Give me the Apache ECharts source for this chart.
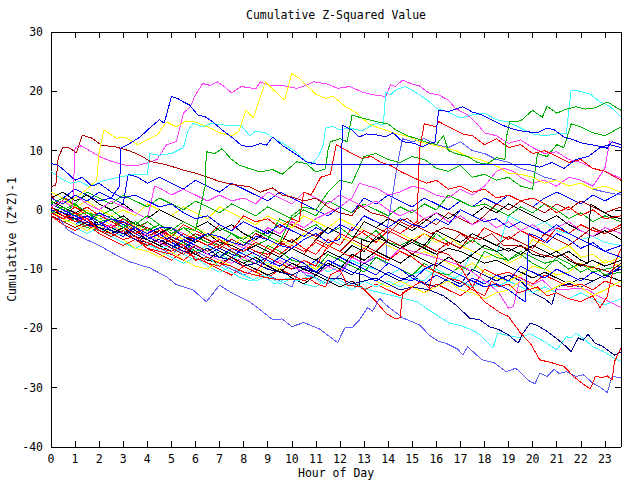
<!DOCTYPE html>
<html><head><meta charset="utf-8">
<script src="https://cdn.jsdelivr.net/npm/echarts@6/dist/echarts.min.js"></script>
<style>html,body{margin:0;padding:0;background:#fff}#c{width:640px;height:480px}
#c svg path{shape-rendering:crispEdges}</style>
</head><body><div id="c"></div>
<script>
// ---- axis settings (hours 0..23.67, values -40..30) ----
const xMin = 0, xMax = 23.67, yMin = -40, yMax = 30;
const titleText = 'Cumulative Z-Squared Value';
const xName = 'Hour of Day';
const yName = 'Cumulative (Z*Z)-1';

// ---- series: [hour, cumulative value] ----
const slateLow = [[0,0],[0.35,-1.5],[0.7,-3.4],[1.3,-4.7],[2,-6],[2.7,-7.6],[3.3,-8.8],[4.1,-9.8],[4.8,-11.3],[5.2,-12.6],[5.9,-13.5],[6.45,-15.5],[7,-12.7],[7.5,-14],[8.25,-15.5],[8.7,-16.9],[9.2,-18.5],[9.6,-18.4],[10,-19.7],[10.5,-19],[11.15,-20.1],[11.9,-22.4],[12.2,-19.9],[12.5,-19.9],[12.8,-18.6],[13.15,-16.5],[13.35,-17.1],[13.65,-14.9],[13.9,-16],[14.6,-18.2],[15.3,-19.4],[15.7,-21.1],[16.1,-22.2],[16.4,-22.5],[16.9,-23.5],[17.1,-24.5],[17.3,-23.1],[17.9,-25.3],[18.4,-25.8],[18.9,-27.3],[19.3,-26.7],[19.9,-29],[20.1,-29.3],[20.3,-27.5],[20.6,-28.1],[20.9,-26.9],[21.1,-27.6],[21.4,-27.3],[21.8,-28.1],[22.1,-27.8],[22.5,-29.2],[22.8,-29.9],[23.1,-30.8],[23.3,-28.1],[23.67,-28.3]];
const redLow = [[0,0.5],[0.5,-1],[1,-2],[1.5,-1.5],[2,-3.5],[2.5,-4],[3,-5],[3.5,-4.5],[4,-5.5],[4.5,-6.5],[5,-7],[5.5,-6],[6,-8.5],[6.5,-8],[7,-9],[7.5,-9.5],[8,-10.5],[8.5,-11],[9,-11.5],[9.5,-11.8],[10.2,-11.8],[10.7,-11.5],[11,-12.4],[11.4,-13],[11.6,-11],[12,-10.1],[12.3,-12.7],[12.9,-13],[13.5,-15.5],[13.9,-17.4],[14.3,-18.4],[14.5,-18.2],[14.6,-14],[15,-13],[15.4,-12],[15.7,-13.2],[16.1,-7],[16.5,-7.5],[17,-9.6],[17.5,-13],[18,-15.5],[18.6,-17.2],[19,-18],[19.5,-20.8],[19.9,-22.5],[20.3,-25.3],[20.8,-25.8],[21.3,-26.4],[21.7,-28.1],[22.1,-29.4],[22.4,-30.2],[22.6,-28.1],[22.9,-28.3],[23.1,-28],[23.3,-28.7],[23.4,-25.6],[23.67,-23.3]];
const cyanLow = [[0,0],[0.5,-1.5],[1,-2.5],[1.5,-2],[2,-3.5],[2.5,-4.5],[3,-4],[3.5,-5],[4,-6],[4.5,-6.5],[5,-6],[5.5,-7.5],[6,-8.5],[6.5,-8],[7,-9.5],[7.5,-10.5],[7.8,-11.3],[8.3,-12],[8.8,-11],[9.3,-12.5],[9.8,-11.5],[10.3,-12],[10.8,-11],[11.3,-12.5],[11.8,-11.5],[12.3,-12.5],[12.8,-13],[13.2,-13.5],[13.7,-14],[14.2,-14.5],[14.7,-15],[15.2,-15.5],[15.7,-16.9],[16.1,-18],[16.55,-19.1],[17,-19.5],[17.4,-20.1],[17.8,-21],[18.35,-23.3],[18.55,-20.8],[19,-21.2],[19.5,-21.6],[19.9,-20.9],[20.3,-21.8],[20.6,-22.5],[21,-23.6],[21.4,-21.4],[21.6,-21.6],[21.8,-20.8],[22.2,-22],[22.5,-23.1],[22.9,-23.8],[23.3,-24.8],[23.67,-25.6]];
const navyLow = [[0,0],[0.5,-1],[1,-1.5],[1.5,-2.5],[2,-3],[2.5,-3.5],[3,-4],[3.5,-5],[4,-5.5],[4.5,-5],[5,-6],[5.5,-7],[6,-7.5],[6.5,-6.5],[7,-8],[7.5,-8.5],[8,-9.5],[8.5,-9],[9,-10],[9.5,-10.5],[10,-11],[10.5,-10],[11,-10.5],[11.5,-11.5],[12,-11.5],[12.5,-12.5],[13,-12],[13.5,-11.5],[14,-12.5],[14.5,-13.5],[15,-13],[15.7,-13.5],[16.3,-14.5],[16.8,-16],[17.4,-18.3],[17.8,-18.5],[18.2,-19.7],[18.6,-20.2],[19,-21.1],[19.4,-22.5],[19.6,-20.8],[19.9,-19.1],[20.2,-19.5],[20.6,-20.5],[21,-21.7],[21.4,-23.1],[21.6,-23.9],[21.9,-21.6],[22.1,-22],[22.3,-21],[22.6,-22.5],[22.9,-23],[23.2,-23.9],[23.4,-24.5],[23.67,-24]];
const blueFlat = [[0,2],[0.5,1],[1,2.5],[1.5,1.5],[2,3],[2.5,2],[2.85,4],[2.9,10.4],[3.2,11],[3.7,12.3],[4.1,13.8],[4.5,15.2],[4.7,14.6],[5,19.1],[5.25,18.8],[5.5,18.2],[5.75,17.7],[6.1,16],[6.4,15.7],[6.7,14.9],[7.1,13.5],[7.5,12.3],[7.9,10.9],[8.25,10.6],[8.7,11.2],[8.95,10.9],[9.2,12.3],[9.6,10.9],[10.2,9.3],[10.6,8.1],[11.15,7.6],[19.9,7.6],[20.3,7.2],[20.8,8],[21.3,7],[21.8,8.5],[22.3,9],[22.8,10.5],[23.2,11],[23.67,10.5]];
const blueJump = [[0,0],[0.5,-0.5],[1,-1],[1.5,-2],[2,-2.5],[2.5,-1.5],[3,-2],[3.5,-3],[4,-4],[4.5,-3],[5,-3],[5.5,-4.5],[6,-5],[6.5,-4],[7,-4.5],[7.5,-5.5],[8,-6],[8.5,-4.5],[9,-5],[9.5,-6],[10,-6.5],[10.5,-5],[11,-4],[11.5,-5.5],[12,-5],[12.1,14.3],[12.5,13.5],[12.8,12.3],[13.1,12.8],[13.6,12.6],[13.9,12.3],[14.2,13],[14.6,11.5],[15.1,11.2],[15.4,10.6],[15.7,11.2],[15.95,11.4],[16.1,16.8],[16.5,16.6],[17.1,17.4],[17.5,16.5],[17.9,16],[18.5,14.8],[18.9,14],[19.3,13.5],[19.7,13.2],[20.2,13],[20.6,13.8],[20.9,13.5],[21.3,12.3],[21.7,11.8],[22.1,11.2],[22.7,10.8],[23.1,10.4],[23.3,11.5],[23.67,11]];
const magentaTop = [[0,0.5],[0.5,1.5],[0.9,0.5],[1,10.5],[1.25,10.8],[1.6,10],[2,9],[2.5,8.2],[3,7.6],[3.5,7.4],[4,7.9],[4.4,8.5],[4.8,11],[5.2,11.5],[5.5,16.3],[5.8,17.5],[6,19.4],[6.3,21.3],[6.6,21],[6.9,21.6],[7.2,20.8],[7.5,19.7],[7.9,20.8],[8.25,20.6],[8.5,20.4],[8.7,21.6],[9.1,20.9],[9.6,21],[10.2,20.5],[10.6,21],[10.9,21.6],[11.5,21.2],[11.9,20.5],[12.4,20.8],[12.9,19.9],[13.4,19.4],[13.9,19.1],[14.1,21.1],[14.3,20.8],[14.6,21.9],[15,21.2],[15.3,20.9],[15.7,19.7],[16.1,19.4],[16.5,18.5],[16.8,17.1],[17.3,16],[17.7,14.5],[18,13],[18.5,12.5],[19,11.2],[19.5,11.8],[20,10.5],[20.5,9.5],[21,9.8],[21.5,8.5],[22,8],[22.5,7],[23,6.5],[23.67,5.3]];
const yellowTop = [[0,2],[0.5,1],[1,2],[1.5,3.5],[1.9,5],[2,9.8],[2.2,13.5],[2.7,12.1],[3.1,12.2],[3.6,11],[4,11.8],[4.4,12.6],[4.8,14.8],[5.2,14],[5.6,15],[6,14.8],[6.5,14],[7,13],[7.5,12.5],[7.8,13.2],[8.1,16.8],[8.4,15.5],[8.9,21.6],[9.3,20],[9.7,18.5],[10,23],[10.3,22.2],[10.6,21],[11,19.5],[11.4,18.8],[11.7,19.2],[12.2,17.5],[12.7,16.3],[13.2,14.5],[13.5,14],[14.2,13],[14.9,12.3],[15.3,11.5],[15.8,11],[16.3,10.5],[16.8,10],[17.3,9],[17.8,8.5],[18.2,7.9],[18.6,7.2],[19,6.2],[19.5,6],[20,5.5],[20.5,4.5],[21,5],[21.5,4],[22,4.5],[22.5,3.5],[23,4],[23.67,3]];
const cyanTop = [[0,6.5],[0.4,5.3],[0.8,4.5],[1.2,4.8],[1.6,3.9],[2.1,4.8],[2.7,5.4],[3.3,5.9],[4,5.9],[4.1,9.5],[4.5,9.2],[5,9.5],[5.5,10.5],[5.7,13.5],[5.9,14.6],[6.3,14],[6.65,14.6],[7.2,14.3],[7.9,14.2],[8.25,12.5],[8.5,13.3],[8.9,13],[9.2,12.2],[9.6,11.3],[10.1,10],[10.5,8.5],[10.8,7.6],[11.1,9],[11.3,10.9],[11.4,13.8],[11.7,14.1],[12,13.5],[12.4,13.8],[12.9,13.3],[13.2,14],[13.5,14.6],[13.8,14.3],[13.9,19.9],[14.1,19.4],[14.3,20.2],[14.7,20.8],[15,20.2],[15.3,19.4],[15.7,18.3],[16,17.1],[16.5,16.5],[17,15.5],[17.5,16],[18,16.3],[18.5,15.2],[19,14.8],[19.5,13.8],[20,12.8],[20.5,12.5],[21,12.8],[21.4,12.9],[21.6,20.2],[22,20],[22.4,19.5],[22.8,18.2],[23.2,17.5],[23.67,15.7]];
const greenTop = [[0,-0.5],[0.5,0.5],[1,-1],[1.5,-0.5],[2,-2],[2.5,-1.5],[3,-3],[3.5,-2],[4,-3.5],[4.5,-2.5],[5,-4],[5.5,-3],[6,-3.5],[6.4,4],[6.45,9.8],[6.8,9.5],[7.1,10.3],[7.5,8.5],[7.8,7.6],[8.2,7],[8.7,6.4],[9.2,6.8],[9.6,6],[10.2,8.1],[10.6,7.8],[11,6.4],[11.4,6.9],[11.5,10],[11.6,11.5],[12,12],[12.3,11.5],[12.5,16],[12.9,15.5],[13.2,15.2],[13.6,14.8],[14,14.5],[14.3,13.5],[14.8,12.5],[15.2,12],[15.6,11.4],[16,11],[16.3,12.5],[16.5,10],[16.8,9.5],[17.3,9],[17.7,8],[18.1,7.7],[18.5,8.8],[18.85,8.5],[18.9,12],[19.05,14.9],[19.5,15],[20,16.8],[20.4,15.6],[20.6,17.5],[21,16.3],[21.4,17],[21.8,17.4],[22.2,17],[22.6,17.2],[23.1,18.2],[23.67,16.8]];
const darkRedTop = [[0,3.9],[0.2,4.2],[0.3,8.8],[0.5,10.6],[0.8,10.4],[1.05,9.6],[1.3,12.6],[1.7,12.1],[2.1,10.9],[2.7,10.6],[3.3,9.9],[3.8,9],[4.1,8.2],[4.8,7.6],[5.5,6.7],[6,6.2],[6.5,5.5],[7,4.8],[7.5,4.3],[8.25,3.9],[8.7,3],[9.2,3.7],[9.6,2.5],[10,2.2],[10.5,1.5],[11,2],[11.5,0.5],[12,-0.5],[12.5,-1],[12.8,0.8],[13.3,-0.5],[13.8,-1],[14.3,-2],[14.8,-1.5],[15.3,-3],[15.8,-4],[16.3,-3],[16.8,-3.5],[17.3,-4.5],[17.8,-5],[18.3,-4],[18.8,-6],[19.3,-6],[19.8,-6.5],[20.3,-7.5],[20.8,-8],[21.3,-7.5],[21.8,-9],[22.3,-9.5],[22.8,-10],[23.2,-10.5],[23.67,-9]];
const greenMid = [[0,1.5],[0.5,0],[1,1],[1.5,-0.5],[2,-1],[2.5,0],[3,-1.5],[3.5,-2.5],[4,-1],[4.5,-2.5],[5,-3.5],[5.5,-2],[6,-3],[6.5,-4.5],[7,-3],[7.5,-4],[8,-5],[8.5,-3.5],[9,-4.5],[9.5,-5.5],[10,-1],[10.5,0.5],[11,0],[11.5,3],[12,5],[12.5,4.5],[13,9],[13.5,9.5],[14,8.5],[14.5,8],[15,9],[15.5,8.5],[16,7],[16.5,6.5],[17,7.5],[17.5,5.5],[18,6],[18.5,5],[19,5.5],[19.5,4],[20,3.5],[20.2,9.5],[20.6,9],[21,11],[21.3,10.5],[21.6,14.5],[22,14],[22.5,13],[23,12.5],[23.67,14]];
const greenLow = [[0,-1],[0.5,-2],[1,-1.5],[1.5,-3],[2,-3.5],[2.5,-2.5],[3,-4],[3.5,-5],[4,-4],[4.5,-5.5],[5,-6.5],[5.5,-5.5],[6,-7],[6.5,-6.5],[7,-8],[7.5,-7],[8,-8.5],[8.5,-9],[9,-6],[9.5,-7],[10,-8.5],[10.5,-9],[11,-10],[11.5,-7.5],[12,-8.5],[12.5,-9.5],[13,-10.5],[13.5,-8],[14,-9],[14.5,-10],[15,-11],[15.5,-9],[16,-10.5],[16.5,-11],[17,-9.5],[17.5,-10.5],[18,-7],[18.5,-8],[19,-8.5],[19.5,-7.5],[20,-9],[20.5,-10],[21,-8],[21.5,-9],[22,-10.5],[22.5,-9.5],[23,-11],[23.67,-10.5]];
const greenBand = [[0,0.5],[0.5,-0.5],[1,0.8],[1.5,-0.5],[2,-1.5],[2.5,-1],[3,-2.5],[3.5,-3],[4,-2],[4.5,-3.5],[5,-4.5],[5.5,-3],[6,-4.5],[6.5,-5.5],[7,-6],[7.5,-4],[8,-5.5],[8.5,-6],[9,-5],[9.5,-1.5],[10,-2.5],[10.5,-3.5],[11,-2.5],[11.5,-4],[12,-3],[12.5,-4.5],[13,-5],[13.5,-3.5],[14,-5.5],[14.5,-6],[15,-5],[15.5,-6.5],[16,-4],[16.5,-5.5],[17,-6.5],[17.5,-5],[18,-6.5],[18.5,-7],[19,-8.5],[19.5,-7],[20,-8],[20.5,-9],[21,-8.5],[21.5,-10],[22,-9],[22.5,-10.5],[23,-10],[23.67,-9.5]];
const greenHigh = [[0,1],[0.5,2],[1,1],[1.5,3],[2,2],[2.5,1],[3,2.5],[3.5,1.5],[4,0.5],[4.5,2],[5,1],[5.5,0],[6,1.5],[6.5,0.5],[7,-0.5],[7.5,1],[8,0],[8.5,-1],[9,0.5],[9.5,-0.5],[10,-1.5],[10.5,0],[11,-1],[11.5,1.5],[12,0.5],[12.5,-0.5],[13,1],[13.5,0],[14,-1],[14.5,0.5],[15,-0.5],[15.5,1],[16,0],[16.5,2.5],[17,1.5],[17.5,0.5],[18,1],[18.5,0],[19,-1],[19.5,0.5],[20,-0.5],[20.5,1],[21,0],[21.5,-1.5],[22,-0.5],[22.5,-2],[23,-1],[23.67,-2]];
const redRise = [[0,1],[0.5,0],[1,-1],[1.5,0.5],[2,-1],[2.5,-2],[3,-3],[3.5,-4.5],[4,-6.5],[4.5,-7],[5,-7.5],[5.5,-8.5],[6,-7],[6.5,-9],[7,-9.5],[7.5,-8],[8,-9.5],[8.5,-10.5],[9,-8],[9.5,-9],[10,-10],[10.5,-8.5],[11,-9.5],[11.5,-6],[12,-7],[12.5,-8],[13,-6.5],[13.5,-7.5],[14,-8.5],[14.5,-7],[15,-8],[15.5,-9.5],[16,-10.5],[16.5,-11.5],[17,-12],[17.5,-13.5],[18,-14.5],[18.3,-12],[18.6,-13],[19,-12.5],[19.4,-14],[19.8,-13.5],[20.2,-13],[20.6,-14.5],[21,-14],[21.5,-15],[22,-15.5],[22.5,-14.5],[22.8,-16.5],[23.1,-14.6],[23.4,-9],[23.67,-6.6]];
const redClimb = [[0,-0.5],[0.5,-1.5],[1,-0.5],[1.5,-2],[2,-2.5],[2.5,-1.5],[3,-3],[3.5,-4],[4,-3],[4.5,-4.5],[5,-5.5],[5.5,-4],[6,-5],[6.5,-6],[7,-5],[7.5,-6.5],[8,-7],[8.5,-5.5],[9,-6.5],[9.5,-7.5],[10,-6],[10.5,-7],[11,-5.5],[11.5,-6.5],[12,-4],[12.5,-5],[13,-3.5],[13.5,-4.5],[14,-3],[14.5,-4],[15,-2.5],[15.2,-2],[15.3,10],[15.5,14.5],[16,14],[16.1,14.9],[16.6,13.8],[17.1,12.8],[17.5,12.5],[18,11],[18.5,12],[19,10.5],[19.5,11],[20,9.5],[20.5,10],[21,9],[21.5,8],[22,8.5],[22.5,7],[23,6.5],[23.67,5]];
const redUpper = [[0,0],[0.5,-1],[1,0.5],[1.5,-1],[2,-2],[2.5,-3],[3,-1.5],[3.5,-3],[4,-4],[4.5,-3],[5,-4.5],[5.5,-2.5],[6,-3.5],[6.5,-4.5],[7,-2.5],[7.5,-3.5],[8,-1],[8.5,-2],[9,-1.5],[9.5,-3],[10,-1.5],[10.3,-2],[10.5,3],[10.8,2.5],[11.2,5.5],[11.6,6],[11.85,11],[12.2,10.2],[12.5,9.5],[12.9,8.7],[13.3,9],[13.7,8],[14.1,7.5],[14.5,6.5],[15,5.5],[15.6,4.5],[16,5],[16.5,3.5],[17,4],[17.5,3],[18,3.5],[18.5,2],[19,2.5],[19.5,1.5],[20,2],[20.5,1],[21,-0.5],[21.5,0.5],[22,-1],[22.5,0],[23,-1.5],[23.67,-1]];
const redBand = [[0,2.5],[0.3,1],[0.6,2],[1,0.5],[1.5,-0.5],[2,-1.5],[2.5,-1],[3,-2.5],[3.5,-3.5],[4,-2],[4.5,-3.5],[5,-5],[5.5,-6],[6,-4.5],[6.5,-5.5],[7,-6.5],[7.5,-5],[8,-6],[8.5,-7],[9,-7.5],[9.5,-6],[10,-5],[10.5,-6.5],[11,-7.5],[11.5,-5],[12,-6],[12.5,-3],[13,-4],[13.5,-5.5],[14,-3.5],[14.5,-4.5],[15,-5.5],[15.5,-4],[16,-5],[16.5,-6],[17,-4],[17.5,-5.5],[18,-3],[18.5,-4],[19,-5],[19.5,-3.5],[20,-4.5],[20.5,-5.5],[21,-3],[21.5,-4],[22,-2.5],[22.5,-3.5],[23,-4],[23.67,-2.5]];
const redDeep = [[0,-1],[0.5,-2.5],[1,-3.5],[1.5,-2.5],[2,-4],[2.5,-5],[3,-6],[3.5,-5],[4,-6.5],[4.5,-7.5],[5,-8.5],[5.5,-7],[6,-8],[6.5,-9],[7,-10],[7.5,-11],[8,-9.5],[8.5,-10.5],[9,-11.5],[9.5,-10],[10,-11],[10.5,-12],[11,-11],[11.5,-12],[12,-13],[12.5,-12],[13,-13.5],[13.5,-12.5],[14,-13.5],[14.5,-14.5],[15,-13],[15.5,-14],[16,-12.5],[16.5,-13.5],[17,-14.5],[17.5,-13],[18,-10],[18.5,-11],[19,-10.5],[19.5,-11.5],[20,-12.5],[20.5,-11],[21,-12],[21.5,-13],[22,-12.5],[22.5,-13.5],[23,-12],[23.67,-13]];
const blueStart8 = [[0,7.8],[0.3,7.5],[0.6,6.5],[1,5],[1.3,5.5],[1.7,4],[2,4.5],[2.5,3],[3,2],[3.5,2.5],[4,1.5],[4.5,0.5],[5,1],[5.5,-0.5],[6,-1.5],[6.5,-1],[7,-2.5],[7.5,-3.5],[8,-2],[8.5,-3],[9,-4],[9.5,-2.5],[10,-3.5],[10.5,-4.5],[11,-3],[11.5,-4],[12,-2.5],[12.5,-3.5],[13,-1],[13.5,-2],[14,-3],[14.5,-1.5],[15,-2.5],[15.5,-3],[16,-1.5],[16.5,-2.5],[17,0],[17.5,-1],[18,-2],[18.5,-1.5],[19,-3],[19.5,-2],[20,-3],[20.5,-4],[21,-2.5],[21.5,-4],[22,-5],[22.5,-6],[23,-7],[23.67,-8]];
const blueLow = [[0,-0.5],[0.5,-1.5],[1,-2.5],[1.5,-1],[2,-2],[2.5,-3.5],[3,-4.5],[3.5,-3],[4,-4.5],[4.5,-5.5],[5,-6.5],[5.5,-5],[6,-6],[6.5,-7.5],[7,-8],[7.5,-6.5],[8,-7.5],[8.5,-8.5],[9,-9.5],[9.5,-8],[10,-9],[10.5,-10],[11,-8.5],[11.5,-9.5],[12,-8],[12.5,-9],[13,-10],[13.5,-11],[14,-9],[14.5,-10],[15,-11.5],[15.5,-12.5],[16,-11],[16.5,-12],[17,-13],[17.5,-11.5],[18,-12.5],[18.5,-11],[19,-12],[19.5,-9.5],[20,-10.5],[20.5,-11.5],[21,-10],[21.5,-11],[22,-12],[22.5,-10.5],[23,-11.5],[23.67,-9.5]];
const blueStep = [[0,1],[0.5,0],[1,-1],[1.5,-2],[2,-0.5],[2.5,-1.5],[3,-2.5],[3.5,-4],[4,-5],[4.5,-4],[5,-5.5],[5.5,-6.5],[6,-5],[6.5,-6],[7,-7],[7.5,-8],[8,-6.5],[8.5,-7.5],[9,-8.5],[9.5,-9.5],[10,-8],[10.5,-9],[11,-10.5],[11.5,-8.5],[12,-9.5],[12.5,-10.5],[13,-11],[13.5,-12],[14,-10.5],[14.5,-11.5],[15,-12],[15.5,-10],[16,-9],[16.5,-10],[17,-11],[17.5,-12],[18,-13],[18.5,-12.5],[19,-13.5],[19.5,-15],[19.7,-15.5],[19.85,-4],[20.2,-4.5],[20.6,-5.5],[21,-4],[21.5,-5],[22,-6.5],[22.5,-5.5],[23,-7],[23.67,-6]];
const blueUpper = [[0,3],[0.5,2],[1,3.5],[1.5,2.5],[2,1.5],[2.5,2],[3,1],[3.2,6],[3.6,5.5],[4,4.5],[4.5,5.5],[5,4.5],[5.5,3.5],[6,5],[6.5,4],[7,3],[7.5,4.5],[8,3.5],[8.5,2.5],[9,1.5],[9.5,3],[10,2],[10.5,1],[11,0],[11.5,-1],[12,0.5],[12.5,-0.5],[13,2],[13.5,1],[14,2.5],[14.5,1.5],[15,0.5],[15.5,2],[16,1],[16.5,0],[17,1.5],[17.5,0.5],[18,2],[18.5,1],[19,2.5],[19.5,1.5],[20,0.5],[20.5,2],[21,3],[21.5,2],[22,1],[22.5,2.5],[23,1.5],[23.67,3]];
const blackA = [[0,1.5],[0.5,0.5],[1,-0.5],[1.5,0.5],[2,-1],[2.5,-2],[3,-1],[3.5,-2.5],[4,-3],[4.5,-4],[5,-3],[5.5,-4.5],[6,-5.5],[6.5,-4],[7,-5.5],[7.5,-6],[8,-7],[8.5,-6],[9,-7],[9.5,-8],[10,-6.5],[10.5,-7.5],[11,-8.5],[11.5,-7],[12,-8],[12.5,-6],[13,-7],[13.5,-4.5],[14,-5.5],[14.5,-6.5],[15,-5],[15.5,-6],[16,-3.5],[16.5,-4.5],[17,-5.5],[17.5,-4],[18,-5],[18.5,-6],[19,-7],[19.5,-6],[20,-7.5],[20.5,-8],[21,-7],[21.5,-8.5],[22,-9.5],[22.5,-8.5],[23,-9.5],[23.67,-8.5]];
const blackB = [[0,0],[0.5,-1],[1,-2],[1.5,-1.5],[2,-3],[2.5,-4],[3,-3],[3.5,-4.5],[4,-5],[4.5,-6],[5,-5],[5.5,-6.5],[6,-7.5],[6.5,-8.5],[7,-7],[7.5,-8],[8,-9],[8.5,-8],[9,-9.5],[9.5,-10.5],[10,-9],[10.5,-10],[11,-11],[11.5,-9],[12,-10],[12.5,-7.5],[13,-8.5],[13.5,-7],[14,-8],[14.5,-9],[15,-7.5],[15.5,-8.5],[16,-9.5],[16.5,-8],[17,-9],[17.5,-7.5],[18,-6],[18.5,-7],[19,-6.5],[19.5,-7.5],[20,-6],[20.5,-7],[21,-8],[21.5,-7],[22,-8.5],[22.3,-9],[22.4,1],[22.8,0],[23.2,-1],[23.67,-1.5]];
const blackC = [[0,2],[0.5,3],[1,1.5],[1.5,2.5],[2,1],[2.5,0],[3,1],[3.5,-0.5],[4,-1.5],[4.5,0],[5,-1],[5.5,-2],[6,-3],[6.5,-2],[7,-3.5],[7.5,-2.5],[8,-4],[8.5,-5],[9,-3.5],[9.5,-4.5],[10,-5.5],[10.5,-4],[11,-5],[11.5,-3],[12,-4],[12.5,-5],[13,-2],[13.5,-3],[14,-1.5],[14.5,-2.5],[15,-3.5],[15.5,-2],[16,-0.5],[16.5,-1.5],[17,0],[17.5,-1],[18,0.5],[18.5,-0.5],[19,1],[19.5,0],[20,-1],[20.5,-2],[21,-1],[21.5,-2.5],[22,-3.5],[22.5,-4.5],[23,-3.5],[23.67,-5]];
const blackD = [[0,0.5],[0.5,-0.5],[1,-1.5],[1.5,-2.5],[2,-2],[2.5,-3],[3,-4],[3.5,-3.5],[4,-5],[4.5,-6],[5,-7],[5.5,-6],[6,-7.5],[6.5,-8.5],[7,-9],[7.5,-8],[8,-9],[8.5,-10],[9,-11],[9.5,-10],[10,-11.5],[10.5,-12.5],[11,-11],[11.5,-12],[12,-13],[12.5,-12],[12.8,-13],[12.9,-5],[13.3,-5.5],[13.7,-4.5],[14,-5.5],[14.5,-6.5],[15,-5.5],[15.5,-6.5],[16,-7.5],[16.5,-6.5],[17,-7],[17.5,-8],[18,-9],[18.5,-8.5],[19,-9.5],[19.5,-10.5],[20,-11.5],[20.5,-10.5],[21,-11.5],[21.5,-12.5],[22,-11.5],[22.5,-12],[23,-11],[23.67,-12]];
const yellowLow = [[0,0],[0.5,-1.5],[1,-2.5],[1.5,-3.5],[2,-2.5],[2.5,-4],[3,-5],[3.5,-6.5],[4,-7],[4.5,-8],[5,-7],[5.5,-8.5],[6,-9.5],[6.5,-10],[7,-8.5],[7.5,-9.5],[8,-10.5],[8.5,-11],[9,-9],[9.5,-10],[10,-8],[10.5,-9],[11,-10],[11.5,-8.5],[12,-9.5],[12.5,-10.5],[13,-11],[13.5,-12],[14,-13],[14.5,-12],[15,-13],[15.5,-14],[16,-13],[16.5,-12],[17,-13.5],[17.5,-14],[18,-15],[18.5,-14],[19,-13.5],[19.5,-12],[20,-13],[20.5,-14],[21,-13],[21.5,-12],[22,-13],[22.5,-14.5],[23,-13.5],[23.67,-12]];
const yellowMid = [[0,3],[0.5,2],[1,0.5],[1.5,1.5],[2,0],[2.5,-1],[3,0],[3.5,-1],[4,1],[4.5,0],[5,-1],[5.5,0.5],[6,-0.5],[6.5,-1.5],[7,0.5],[7.5,-0.5],[8,-1.5],[8.5,-2.5],[9,-1],[9.5,-2],[10,-3],[10.5,-1],[11,-2],[11.5,-3],[12,-1.5],[12.5,-2.5],[13,-3.5],[13.5,-4.5],[14,-3],[14.5,-4],[15,-5],[15.5,-4],[16,-5.5],[16.5,-4.5],[17,-6],[17.5,-7],[18,-8],[18.5,-7.5],[19,-9],[19.5,-8],[20,-5],[20.5,-6],[21,-7],[21.5,-6],[22,-8],[22.5,-7.5],[23,-9],[23.67,-8]];
const yellowBand = [[0,1],[0.5,0],[1,-1],[1.5,0],[2,-1.5],[2.5,-2.5],[3,-3.5],[3.5,-2.5],[4,-4],[4.5,-5],[5,-4],[5.5,-5],[6,-3],[6.5,-4],[7,-5],[7.5,-6],[8,-4.5],[8.5,-5.5],[9,-6.5],[9.5,-5],[10,-6],[10.5,-4],[11,-5],[11.5,-6],[12,-4.5],[12.5,-5.5],[13,-6.5],[13.5,-5],[14,-6],[14.5,-7],[15,-8],[15.5,-7],[16,-8],[16.5,-9],[17,-10],[17.5,-9],[18,-10.5],[18.5,-11.5],[19,-12],[19.5,-11],[20,-9.5],[20.5,-10],[21,-11],[21.5,-10.5],[22,-9],[22.5,-10],[23,-8.5],[23.67,-9.5]];
const magentaLow = [[0,-0.5],[0.5,-1.5],[1,-1],[1.5,-2.5],[2,-3.5],[2.5,-2.5],[3,-4],[3.5,-5],[4,-4],[4.5,-5.5],[5,-6.5],[5.5,-7],[6,-6],[6.5,-7.5],[7,-8.5],[7.5,-9],[8,-8],[8.5,-9],[9,-10],[9.5,-8.5],[10,-9.5],[10.5,-10.5],[11,-11],[11.5,-9.5],[12,-10.5],[12.5,-8],[13,-9],[13.5,-7.5],[14,-8.5],[14.5,-6.5],[15,-7],[15.5,-7.5],[15.9,-8],[16.5,-8.7],[17.1,-9.5],[17.5,-10.5],[18.2,-12.5],[18.6,-14],[19,-16.6],[19.2,-16.3],[19.5,-11.3],[19.9,-12.8],[20.4,-11.8],[20.8,-13.3],[21.3,-13.5],[21.8,-13.2],[22.3,-13.5],[22.7,-14.5],[23.2,-15.5],[23.67,-16.5]];
const magentaMid = [[0,1],[0.5,0],[1,-0.5],[1.5,-1.5],[2,-0.5],[2.5,-2],[3,-3],[3.5,-2],[4,-3.5],[4.5,-4.5],[5,-3],[5.5,-4],[6,-5],[6.5,-6],[7,-4.5],[7.5,-5.5],[8,-6.5],[8.5,-5],[9,-3],[9.5,-4],[10,-2],[10.5,-3],[11,-1.5],[11.5,-0.5],[12,0.5],[12.5,2],[12.8,4.5],[13.2,4],[13.6,3.5],[14,2.5],[14.5,3],[15,4],[15.5,3.5],[16,2.5],[16.5,2],[17,3.5],[17.5,2.5],[18,4],[18.5,6.5],[18.8,7],[19.2,6.5],[19.5,5.5],[20,4.5],[20.5,5],[21,4],[21.5,5.5],[22,5],[22.5,4],[23,7],[23.2,11.5],[23.67,11]];
const magentaBand = [[0,2],[0.5,1],[1,2.5],[1.5,1],[2,0],[2.5,1.5],[3,0.5],[3.5,-0.5],[4,-1.5],[4.3,4],[4.6,3.5],[5,2.5],[5.5,3.5],[6,2.5],[6.5,1.5],[7,2.5],[7.5,1.5],[8,2],[8.5,1],[9,3],[9.5,2],[10,1],[10.5,3],[11,2],[11.5,1],[12,2.5],[12.5,1.5],[13,0.5],[13.5,1.5],[14,0],[14.5,-1],[15,0],[15.5,-1.5],[16,-0.5],[16.5,-2],[17,-1],[17.5,-2.5],[18,-1.5],[18.5,-3],[19,-2],[19.5,-3.5],[20,-2.5],[20.5,-4],[21,-3],[21.5,-2],[22,-3.5],[22.5,-4.5],[23,-3],[23.67,-4]];
const darkRedA = [[0,0.5],[0.5,-0.5],[1,-2],[1.5,-1],[2,-2.5],[2.5,-3],[3,-2],[3.5,-3.5],[4,-4.5],[4.5,-3.5],[5,-4.5],[5.5,-5.5],[6,-4],[6.5,-5],[7,-6],[7.5,-5],[8,-6],[8.5,-4],[9,-5],[9.5,-6],[10,-2.5],[10.5,-3.5],[11,-4.5],[11.5,-3],[12,-4],[12.5,-5],[13,-2],[13.5,-3],[14,-4],[14.5,-2],[15,-3],[15.5,-1.5],[16,-2.5],[16.5,-0.5],[17,-1.5],[17.5,-2.5],[18,-1],[18.5,1],[19,0],[19.5,1.5],[20,0.5],[20.5,-0.5],[21,1],[21.5,0],[22,1.5],[22.5,0.5],[23,-0.5],[23.67,0.5]];
const darkRedB = [[0,-1],[0.5,-2],[1,-3],[1.5,-2],[2,-3.5],[2.5,-4.5],[3,-3.5],[3.5,-5],[4,-6],[4.5,-5],[5,-6.5],[5.5,-7.5],[6,-6],[6.5,-7],[7,-6],[7.5,-7],[8,-8],[8.5,-7],[9,-8],[9.5,-5.5],[10,-6.5],[10.5,-7.5],[11,-5],[11.5,-6],[12,-7],[12.5,-5],[13,-6],[13.5,-7],[14,-5],[14.5,-6],[15,-7.5],[15.5,-6],[16,-7],[16.5,-5.5],[17,-6.5],[17.5,-4],[18,-5],[18.5,-6],[19,-4.5],[19.5,-5.5],[20,-6.5],[20.5,-4],[21,-5],[21.5,-6],[22,-4.5],[22.5,-3],[23,-4],[23.67,-3]];
const cyanMid = [[0,0],[0.5,-1],[1,-2],[1.5,-1.5],[2,-3],[2.5,-3.5],[3,-2.5],[3.5,-4],[4,-5],[4.5,-4],[5,-5.5],[5.5,-6.5],[6,-7],[6.5,-6],[7,-7.5],[7.5,-8.5],[8,-7],[8.5,-8],[9,-9],[9.5,-8],[10,-9],[10.5,-10],[11,-9],[11.5,-10.5],[12,-9.5],[12.5,-8.5],[13,-9.5],[13.5,-10],[14,-11],[14.5,-10],[15,-11],[15.5,-10],[16,-11],[16.5,-12],[17,-11],[17.5,-7],[18,-8],[18.5,-7.5],[19,-1],[19.5,-2],[20,-3],[20.5,-2],[21,-3.5],[21.5,-4],[22,-5],[22.5,-4.5],[23,-5.5],[23.67,-6]];
const cyanBand = [[0,-1],[0.5,-2],[1,-3],[1.5,-4],[2,-3],[2.5,-4.5],[3,-5.5],[3.5,-6.5],[4,-5.5],[4.5,-7],[5,-8],[5.5,-9],[6,-8],[6.5,-9.5],[7,-10.5],[7.5,-9.5],[8,-11],[8.5,-12],[9,-11],[9.5,-12.5],[10,-11.5],[10.5,-12.5],[11,-13],[11.5,-11.5],[12,-12.5],[12.5,-13.5],[13,-12],[13.5,-13],[14,-12],[14.5,-13],[15,-11.5],[15.5,-12],[16,-10],[16.5,-11],[17,-12],[17.5,-13],[18,-12],[18.5,-13],[19,-12],[19.5,-13],[20,-14],[20.5,-13],[21,-14],[21.5,-15],[22,-14],[22.5,-15],[23,-16],[23.67,-15]];
const navyMid = [[0,0.5],[0.5,-0.5],[1,-1.5],[1.5,-1],[2,-2.5],[2.5,-3],[3,-4],[3.5,-3],[4,-4.5],[4.5,-5.5],[5,-4.5],[5.5,-5.5],[6,-6.5],[6.5,-7.5],[7,-6.5],[7.5,-7.5],[8,-8],[8.5,-9],[9,-8],[9.5,-9],[10,-10],[10.5,-9.5],[11,-10.5],[11.5,-9],[12,-10],[12.5,-11],[13,-9],[13.5,-10],[14,-11],[14.5,-12],[15,-11],[15.5,-12.5],[16,-13],[16.5,-11.5],[17,-12.5],[17.5,-10],[18,-11],[18.5,-12],[19,-11],[19.5,-12],[20,-14],[20.5,-15],[20.8,-16],[21,-13],[21.5,-12.5],[22,-13],[22.5,-12],[23,-11],[23.67,-10]];
const slateHigh = [[0,0.5],[0.5,-0.5],[1,-1.5],[1.5,-2.5],[2,-3],[2.5,-4],[3,-3.5],[3.5,-4.5],[4,-5.5],[4.5,-6.5],[5,-7.5],[5.5,-6],[6,-7],[6.5,-8],[7,-9],[7.5,-10],[8,-11],[8.5,-10],[9,-11],[9.5,-12],[10,-13],[10.3,-10],[10.6,-11],[11,-11.5],[11.5,-12.5],[12,-11],[12.5,-8],[13,-9],[13.5,-8],[13.9,-9],[14,-2],[14.2,3],[14.4,8],[14.6,12],[15,11.5],[15.5,12],[16,11],[16.5,10.5],[17,11.5],[17.5,10],[18,9.5],[18.5,8.5],[19,8],[19.5,7],[20,6.5],[20.5,5.5],[21,5],[21.5,4],[22,4.5],[22.5,3.5],[23,3],[23.67,2.5]];

// ---- colours (style only) ----
const C = {red:'#ff0000', green:'#00b000', blue:'#0000ff', magenta:'#ff40ff', cyan:'#40ffff',
  darkred:'#b00000', yellow:'#ffff00', black:'#000000', slate:'#6060ff', navy:'#000090'};

const lines = [
  [redBand,'red'],[greenBand,'green'],[blueUpper,'blue'],[magentaMid,'magenta'],[cyanMid,'cyan'],
  [darkRedA,'darkred'],[yellowMid,'yellow'],[blackC,'black'],[slateHigh,'slate'],[navyMid,'navy'],
  [redDeep,'red'],[greenHigh,'green'],[magentaBand,'magenta'],[cyanBand,'cyan'],[yellowBand,'yellow'],[blackD,'black'],
  [redUpper,'red'],[greenLow,'green'],[blueLow,'blue'],[magentaLow,'magenta'],[cyanLow,'cyan'],
  [darkRedB,'darkred'],[yellowLow,'yellow'],[blackA,'black'],[slateLow,'slate'],[navyLow,'navy'],
  [redRise,'red'],[greenMid,'green'],[blueStep,'blue'],[magentaTop,'magenta'],[cyanTop,'cyan'],
  [darkRedTop,'darkred'],[yellowTop,'yellow'],[blackB,'black'],
  [redClimb,'red'],[greenTop,'green'],[blueStart8,'blue'],[blueJump,'blue'],[redLow,'red'],[blueFlat,'blue']
];

const font = 'DejaVu Sans Mono';
const fs = 11.5;
const chart = echarts.init(document.getElementById('c'), null, {renderer:'svg'});
const axisCommon = {
  axisLine:{show:true, onZero:false, lineStyle:{color:'#000', width:1}},
  axisTick:{show:true, inside:true, length:6, lineStyle:{color:'#000', width:1}},
  splitLine:{show:false}
};
chart.setOption({
  animation:false,
  backgroundColor:'#ffffff',
  grid:{left:51, right:19, top:32, bottom:33, containLabel:false},
  xAxis:[
    Object.assign({type:'value', position:'bottom', min:xMin, max:xMax, interval:1,
      axisLabel:{show:true, margin:6, lineHeight:12, color:'#000', fontFamily:font, fontSize:fs, showMaxLabel:false,
        formatter:v=>String(Math.round(v))}}, axisCommon),
    Object.assign({type:'value', position:'top', min:xMin, max:xMax, interval:1,
      axisLabel:{show:false}}, axisCommon)
  ],
  yAxis:[
    Object.assign({type:'value', position:'left', min:yMin, max:yMax, interval:10,
      axisLabel:{show:true, margin:8, color:'#000', fontFamily:font, fontSize:fs}}, axisCommon),
    Object.assign({type:'value', position:'right', min:yMin, max:yMax, interval:10,
      axisLabel:{show:false}}, axisCommon)
  ],
  graphic:[
    {type:'text', left:336-Math.round(titleText.length*fs*0.602/2), top:9,
      style:{text:titleText, fill:'#000', font:fs+'px "'+font+'"', lineHeight:12}},
    {type:'text', left:336-Math.round(xName.length*fs*0.602/2), top:467,
      style:{text:xName, fill:'#000', font:fs+'px "'+font+'"', lineHeight:12}},
    {type:'text', x:12, y:239.5, rotation:Math.PI/2,
      style:{text:yName, fill:'#000', font:fs+'px "'+font+'"', align:'center', verticalAlign:'middle'}}
  ],
  series: lines.map(([d,c],i)=>({
    type:'line', data:d, xAxisIndex:0, yAxisIndex:0, showSymbol:false, symbol:'none',
    silent:true, clip:true, z:2, lineStyle:{color:C[c], width:1}
  }))
});
</script></body></html>
